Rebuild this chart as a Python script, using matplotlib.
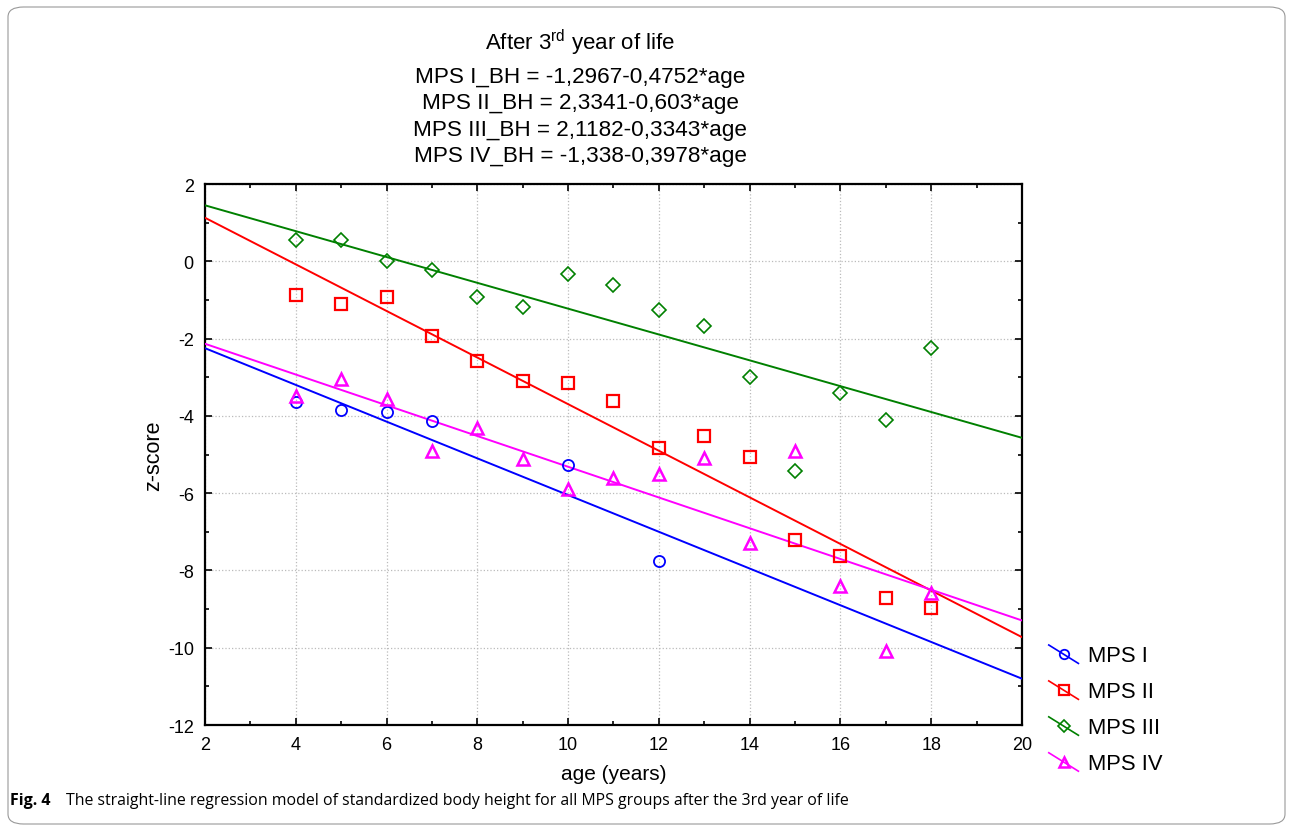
import matplotlib
matplotlib.use('Agg')
import matplotlib.pyplot as plt
import numpy as np
from matplotlib.legend_handler import HandlerLine2D
from matplotlib.patches import FancyBboxPatch
from matplotlib.ticker import MultipleLocator

plt.rcParams['font.family'] = ['Liberation Sans', 'DejaVu Sans']
plt.rcParams['mathtext.fontset'] = 'custom'
plt.rcParams['mathtext.rm'] = 'Liberation Sans'
plt.rcParams['axes.unicode_minus'] = False

groups = ['MPS I', 'MPS II', 'MPS III', 'MPS IV']
intercepts = [-1.2967, 2.3341, 2.1182, -1.338]
slopes = [-0.4752, -0.603, -0.3343, -0.3978]
intercept_txt = ['-1,2967', '2,3341', '2,1182', '-1,338']
slope_txt = ['0,4752', '0,603', '0,3343', '0,3978']

age_1 = [4, 5, 6, 7, 10, 12]
z_1 = [-3.65, -3.86, -3.91, -4.14, -5.28, -7.76]
age_2 = [4, 5, 6, 7, 8, 9, 10, 11, 12, 13, 14, 15, 16, 17, 18]
z_2 = [-0.88, -1.11, -0.93, -1.94, -2.59, -3.11, -3.16, -3.62, -4.84, -4.53,
       -5.07, -7.22, -7.63, -8.72, -8.98]
age_3 = [4, 5, 6, 7, 8, 9, 10, 11, 12, 13, 14, 15, 16, 17, 18]
z_3 = [0.54, 0.54, 0.0, -0.23, -0.93, -1.19, -0.34, -0.62, -1.27, -1.68,
       -3.0, -5.43, -3.42, -4.11, -2.25]
age_4 = [4, 5, 6, 7, 8, 9, 10, 11, 12, 13, 14, 15, 16, 17, 18]
z_4 = [-3.49, -3.05, -3.55, -4.92, -4.32, -5.12, -5.9, -5.62, -5.51, -5.1,
       -7.3, -4.92, -8.41, -10.09, -8.59]

ages = [age_1, age_2, age_3, age_4]
zs = [z_1, z_2, z_3, z_4]
colors = ['#0000ff', '#ff0000', '#008000', '#ff00ff']
markers = ['o', 's', 'D', '^']
msizes = [8, 8, 7, 9]
medges = [1.3, 1.6, 1.2, 1.8]


class DiagonalHandler(HandlerLine2D):
    # legend line drawn as a falling diagonal with the marker in the middle
    def create_artists(self, legend, orig_handle, xdescent, ydescent,
                       width, height, fontsize, trans):
        arts = super().create_artists(legend, orig_handle, xdescent, ydescent,
                                      width, height, fontsize, trans)
        line = arts[0]
        xd = line.get_xdata()
        x0, x1 = xd[0], xd[-1]
        y0, y1 = height * 1.05, -height * 0.15
        line.set_data([x0, (x0 + x1) / 2, x1], [y0, (y0 + y1) / 2, y1])
        return arts


fig = plt.figure(figsize=(12.93, 8.29), dpi=100)
ax = fig.add_axes([0.1585, 0.1242, 0.6319, 0.6526])

xx = np.array([2.0, 20.0])
handles = []
for i in range(4):
    ax.plot(xx, intercepts[i] + slopes[i] * xx, color=colors[i], lw=1.4, zorder=3)
    ax.plot(ages[i], zs[i], linestyle='none', marker=markers[i], ms=msizes[i],
            mfc='none', mec=colors[i], mew=medges[i], zorder=4)
    h, = ax.plot([], [], color=colors[i], lw=1.2, marker=markers[i],
                 ms=msizes[i] * 0.85, mfc='none', mec=colors[i], mew=medges[i])
    handles.append(h)

ax.set_xlim(2, 20)
ax.set_ylim(-12, 2)
ax.xaxis.set_major_locator(MultipleLocator(2))
ax.xaxis.set_minor_locator(MultipleLocator(1))
ax.yaxis.set_major_locator(MultipleLocator(2))
ax.yaxis.set_minor_locator(MultipleLocator(1))
ax.tick_params(which='both', direction='in', top=True, right=True,
               labelsize=13, width=1.2)
ax.tick_params(which='major', length=5)
ax.tick_params(which='minor', length=3)
ax.tick_params(axis='x', pad=8)
ax.tick_params(axis='y', pad=8)
ax.grid(True, which='major', linestyle=':', color='#bbbbbb', lw=0.9)
for s in ax.spines.values():
    s.set_linewidth(1.6)

ax.set_xlabel('age (years)', fontsize=15, labelpad=8)
ax.set_ylabel('z-score', fontsize=15.5, labelpad=3)

cx = 580 / 1293
fig.text(cx, 1 - 43 / 829, r'After 3$^{\mathrm{rd}}$ year of life',
         ha='center', va='center', fontsize=16)
for i in range(4):
    eq = '%s_BH = %s-%s*age' % (groups[i], intercept_txt[i], slope_txt[i])
    fig.text(cx, 1 - (77.5 + 26.3 * i) / 829, eq, ha='center', va='center',
             fontsize=16.2)

fig.legend(handles, groups, handler_map={h: DiagonalHandler() for h in handles},
           loc='center left', bbox_to_anchor=(1040 / 1293, 1 - 710.5 / 829),
           frameon=False, fontsize=15.8, handlelength=1.35, handletextpad=0.45,
           labelspacing=0.68, borderaxespad=0)

fig.text(10 / 1293, 1 - 801 / 829, 'Fig. 4', fontsize=11.5, fontweight='bold',
         family='Open Sans', va='center', ha='left')
fig.text(66 / 1293, 1 - 801 / 829,
         'The straight-line regression model of standardized body height for all MPS groups after the 3rd year of life',
         fontsize=11.4, family='Open Sans', va='center', ha='left')

fig.patches.append(FancyBboxPatch((8 / 1293, 4 / 829), 1277 / 1293, 817 / 829,
                                  boxstyle='round,pad=0,rounding_size=0.012',
                                  transform=fig.transFigure, fill=False,
                                  ec='#999999', lw=0.8))

fig.savefig('out.png', dpi=100)
